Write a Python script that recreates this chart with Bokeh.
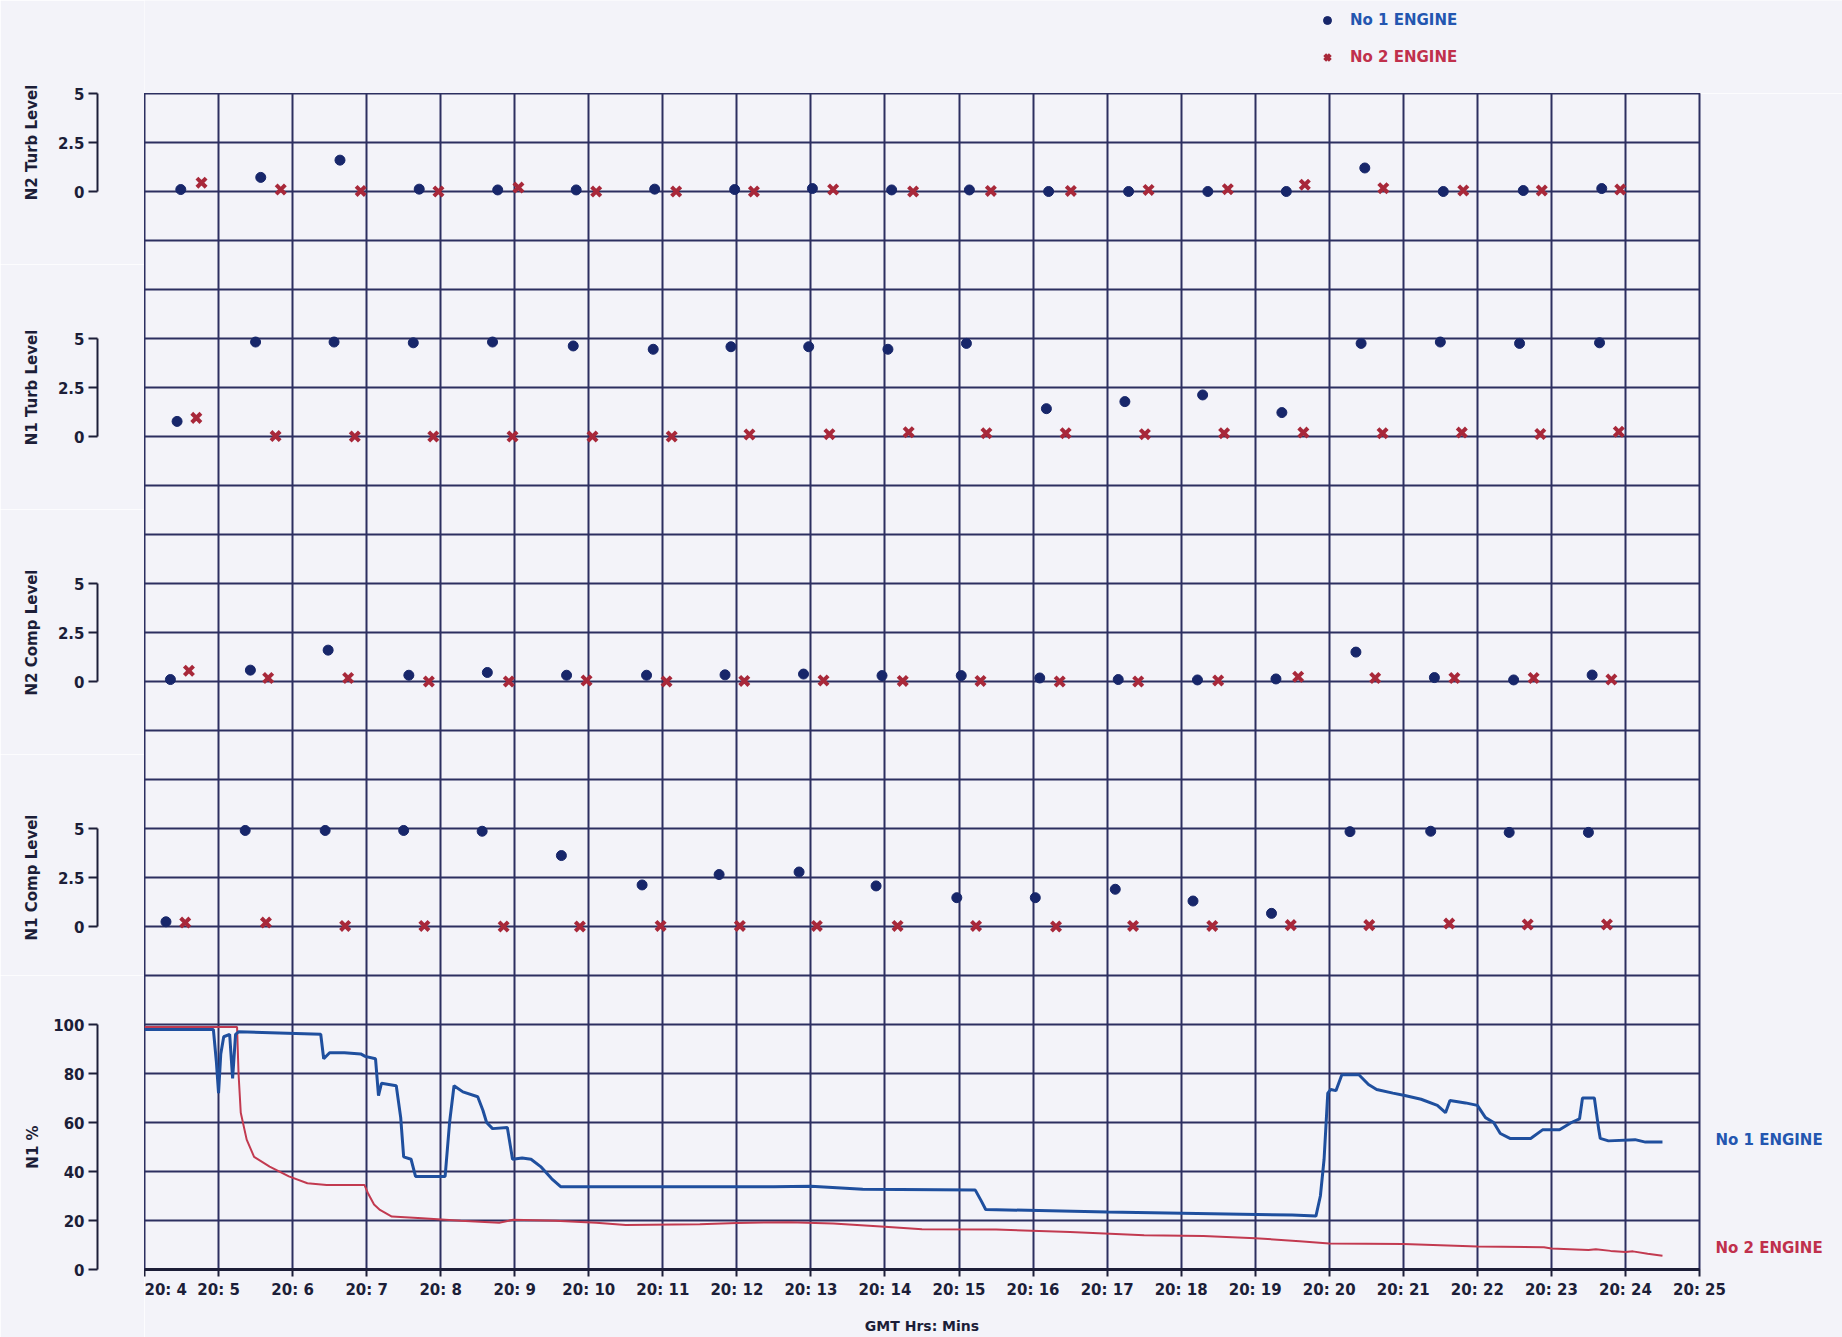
from bokeh.plotting import figure
from bokeh.layouts import row, column
from bokeh.models import (Range1d, FixedTicker, Grid, Legend, LegendItem, Label,
                          PrintfTickFormatter)
from bokeh.embed import file_html
from bokeh.resources import INLINE

# ---- sampled vibration levels (time in minutes past 20:00) ----
n2_turb_t1 = [4.49, 5.57, 6.64, 7.71, 8.77, 9.83, 10.89, 11.97, 13.02, 14.09, 15.14, 16.21, 17.29, 18.36, 19.42, 20.48, 21.54, 22.62, 23.68]
n2_turb_v1 = [0.1, 0.72, 1.6, 0.12, 0.08, 0.08, 0.12, 0.1, 0.15, 0.08, 0.08, 0.0, 0.0, 0.0, 0.0, 1.2, 0.0, 0.05, 0.15]
n2_turb_t2 = [4.77, 5.84, 6.92, 7.97, 9.05, 10.10, 11.18, 12.23, 13.30, 14.38, 15.43, 16.51, 17.56, 18.63, 19.67, 20.73, 21.81, 22.87, 23.93]
n2_turb_v2 = [0.45, 0.1, 0.03, 0.0, 0.2, 0.0, 0.0, 0.0, 0.1, 0.0, 0.03, 0.03, 0.08, 0.12, 0.35, 0.17, 0.05, 0.05, 0.1]

n1_turb_t1 = [4.44, 5.50, 6.56, 7.63, 8.70, 9.79, 10.87, 11.92, 12.97, 14.04, 15.10, 16.18, 17.24, 18.29, 19.36, 20.43, 21.50, 22.57, 23.65]
n1_turb_v1 = [0.77, 4.82, 4.82, 4.78, 4.82, 4.62, 4.45, 4.58, 4.58, 4.45, 4.75, 1.42, 1.78, 2.12, 1.22, 4.75, 4.82, 4.75, 4.78]
n1_turb_t2 = [4.70, 5.77, 6.84, 7.90, 8.97, 10.05, 11.12, 12.17, 13.25, 14.32, 15.37, 16.44, 17.51, 18.58, 19.65, 20.72, 21.79, 22.85, 23.91]
n1_turb_v2 = [0.95, 0.02, 0.0, 0.0, 0.0, 0.0, 0.0, 0.1, 0.12, 0.22, 0.17, 0.17, 0.12, 0.17, 0.2, 0.17, 0.2, 0.13, 0.24]

n2_comp_t1 = [4.35, 5.43, 6.48, 7.57, 8.63, 9.70, 10.78, 11.84, 12.90, 13.96, 15.03, 16.09, 17.15, 18.22, 19.28, 20.36, 21.42, 22.49, 23.55]
n2_comp_v1 = [0.1, 0.58, 1.6, 0.32, 0.46, 0.32, 0.32, 0.34, 0.38, 0.3, 0.3, 0.18, 0.1, 0.08, 0.13, 1.5, 0.2, 0.08, 0.33]
n2_comp_t2 = [4.60, 5.67, 6.75, 7.84, 8.92, 9.97, 11.05, 12.10, 13.17, 14.24, 15.29, 16.36, 17.42, 18.50, 19.58, 20.62, 21.69, 22.76, 23.81]
n2_comp_v2 = [0.55, 0.18, 0.18, 0.0, 0.0, 0.05, 0.0, 0.03, 0.05, 0.03, 0.03, 0.0, 0.0, 0.05, 0.24, 0.18, 0.18, 0.18, 0.1]

n1_comp_t1 = [4.29, 5.36, 6.44, 7.50, 8.56, 9.63, 10.72, 11.76, 12.84, 13.88, 14.97, 16.03, 17.11, 18.16, 19.22, 20.28, 21.37, 22.43, 23.50]
n1_comp_v1 = [0.24, 4.9, 4.9, 4.9, 4.86, 3.62, 2.12, 2.65, 2.78, 2.07, 1.47, 1.47, 1.9, 1.3, 0.67, 4.84, 4.86, 4.8, 4.8]
n1_comp_t2 = [4.55, 5.64, 6.71, 7.78, 8.85, 9.88, 10.97, 12.04, 13.08, 14.17, 15.23, 16.31, 17.35, 18.42, 19.48, 20.54, 21.62, 22.68, 23.75]
n1_comp_v2 = [0.2, 0.2, 0.03, 0.03, 0.0, 0.0, 0.03, 0.03, 0.03, 0.03, 0.03, 0.0, 0.03, 0.03, 0.07, 0.07, 0.15, 0.1, 0.1]

# ---- N1 fan speed traces ----
n1_t1 = [4.00, 4.93, 4.97, 5.00, 5.03, 5.07, 5.15, 5.19, 5.23, 5.27, 6.38, 6.42, 6.50, 6.70, 6.92,
         6.98, 7.12, 7.16, 7.20, 7.40, 7.46, 7.50, 7.60, 7.66, 8.06, 8.12, 8.18, 8.30, 8.50, 8.57,
         8.62, 8.70, 8.90, 8.97, 9.10, 9.22, 9.35, 9.50, 9.62, 12.5, 13.0, 13.7, 15.22, 15.30, 15.36,
         17.0, 19.5, 19.82, 19.88, 19.93, 19.98, 20.02, 20.09, 20.17, 20.40, 20.53, 20.64, 20.86, 21.02,
         21.24, 21.46, 21.57, 21.63, 21.84, 22.00, 22.11, 22.22, 22.31, 22.44, 22.72, 22.88, 23.11, 23.27,
         23.38, 23.42, 23.58, 23.64, 23.66, 23.77, 24.13, 24.27, 24.50]
n1_pct1 = [98, 98, 85, 72, 88, 95, 96, 78, 96, 97, 96, 86, 88.5, 88.5, 88,
           87, 86, 71, 76, 75, 62, 46, 45, 38, 38, 60, 75, 72.5, 70.5, 65,
           60, 57.5, 58, 45, 45.5, 45, 42, 37, 33.8, 33.8, 34, 32.8, 32.4, 28, 24.5,
           23.5, 22.2, 21.8, 30, 45, 72, 73.5, 73, 79.5, 79.5, 75.5, 73.5, 72, 71,
           69.5, 67, 64, 69, 68, 67, 62, 60, 55.5, 53.5, 53.5, 57, 57, 60,
           61.5, 70, 70, 57, 53.5, 52.5, 53, 52, 52]
n1_t2 = [4.00, 5.25, 5.27, 5.30, 5.38, 5.48, 5.69, 5.95, 6.20, 6.46, 6.97, 7.02, 7.10, 7.18, 7.34,
         7.75, 8.27, 8.79, 8.98, 9.55, 10.1, 10.5, 11.5, 12.0, 12.7, 13.3, 14.0, 14.5, 15.5, 16.5,
         17.5, 18.3, 19.0, 19.6, 20.0, 21.0, 22.0, 22.9, 23.0, 23.5, 23.6, 23.8, 24.0, 24.1, 24.3, 24.5]
n1_pct2 = [99, 99, 80, 64, 53, 46, 42, 38, 35.2, 34.5, 34.5, 31, 26.5, 24.3, 21.6,
           20.9, 19.9, 19.1, 20.3, 19.9, 19.1, 18.2, 18.5, 19.0, 19.3, 18.8, 17.4, 16.4, 16.3, 15.3,
           14.0, 13.7, 12.8, 11.5, 10.6, 10.4, 9.4, 9.1, 8.6, 8.0, 8.3, 7.6, 7.1, 7.4, 6.4, 5.6]

minutes = list(range(4, 26))
level_ticks = [0, 2.5, 5]
n1_ticks = [0, 20, 40, 60, 80, 100]
engine_names = ["No 1 ENGINE", "No 2 ENGINE"]

BG = "#f3f3f9"
INK = "#1c1e38"
GRID = "#2c2f60"
DOT = "#17266a"
CROSS = "#a8283a"
LINE1 = "#1f4f9e"
LINE2 = "#c23a50"
TXT1 = "#2356b0"
TXT2 = "#c0304c"
FONT = "DejaVu Sans"

ROW = 49          # height of one grid row, px
TOP = 93          # space above the grid
FRAME_W = 1555
LEFT_W = 144
MAIN_W = 1842 - LEFT_W
BOTTOM = 1337 - TOP - 24 * ROW

DOT_STYLE = dict(marker="circle", size=10, fill_color=DOT, line_color=DOT)
CROSS_STYLE = dict(marker="x", size=13, line_width=4, line_color=CROSS)


# ---- narrow figures holding the stacked level axes ----
def level_axis(label, lo, hi, ticks, top, rows, bottom, standoff, fmt):
    f = figure(frame_width=1, frame_height=rows * ROW,
               x_range=Range1d(0, 1), y_range=Range1d(lo, hi),
               x_axis_type=None, toolbar_location=None, output_backend="svg",
               min_border_left=97, min_border_right=LEFT_W - 98,
               min_border_top=top, min_border_bottom=bottom)
    f.outline_line_color = None
    f.background_fill_color = BG
    f.border_fill_color = BG
    f.ygrid.visible = False
    ax = f.yaxis[0]
    ax.ticker = FixedTicker(ticks=ticks)
    ax.formatter = PrintfTickFormatter(format=fmt)
    ax.minor_tick_line_color = None
    ax.major_tick_in = 0
    ax.major_tick_out = 9
    ax.major_tick_line_width = 2
    ax.major_tick_line_color = INK
    ax.axis_line_width = 2
    ax.axis_line_color = INK
    ax.major_label_standoff = 4
    ax.major_label_text_font = FONT
    ax.major_label_text_font_style = "bold"
    ax.major_label_text_font_size = "15px"
    ax.major_label_text_color = INK
    ax.axis_label = label
    ax.axis_label_standoff = standoff
    ax.axis_label_text_font = FONT
    ax.axis_label_text_font_style = "bold"
    ax.axis_label_text_font_size = "15px"
    ax.axis_label_text_color = INK
    return f


ax_n2t = level_axis("N2 Turb Level", 0, 5, level_ticks, TOP, 2, 73, 14, "%g")
ax_n1t = level_axis("N1 Turb Level", 0, 5, level_ticks, 74, 2, 73, 14, "%g")
ax_n2c = level_axis("N2 Comp Level", 0, 5, level_ticks, 74, 2, 73, 14, "%g")
ax_n1c = level_axis("N1 Comp Level", 0, 5, level_ticks, 74, 2, 49, 14, "%g")
ax_n1 = level_axis("N1 %", 0, 100, n1_ticks, 49, 5, BOTTOM, 8, "%d")

# ---- engine key strip above the grid ----
# the key's own sample renderers carry the first panel's readings; the strip's
# x range (0..1) lies before 20:04, so only their legend swatches show
key = figure(frame_width=MAIN_W, frame_height=TOP, x_range=Range1d(0, 1), y_range=Range1d(0, 1),
             x_axis_type=None, y_axis_type=None, toolbar_location=None, output_backend="svg",
             min_border_left=0, min_border_right=0, min_border_top=0, min_border_bottom=0)
key.outline_line_color = None
key.background_fill_color = BG
key.border_fill_color = BG
key.grid.visible = False
key_dot = key.scatter(n2_turb_t1, n2_turb_v1, **DOT_STYLE)
key_cross = key.scatter(n2_turb_t2, n2_turb_v2, **CROSS_STYLE)


def engine_key(text, rend, color, top_px):
    leg = Legend(items=[LegendItem(label=text, renderers=[rend])],
                 location=(1168, TOP - top_px - 20), padding=0, margin=0, spacing=0,
                 glyph_width=30, glyph_height=20, label_height=20, label_standoff=8,
                 border_line_color=None, background_fill_alpha=0,
                 label_text_font=FONT, label_text_font_style="bold",
                 label_text_font_size="15px", label_text_color=color)
    key.add_layout(leg, "center")


engine_key(engine_names[0], key_dot, TXT1, 10)
engine_key(engine_names[1], key_cross, TXT2, 47)

# ---- main chart: one grid, each panel mapped through its own range ----
p = figure(frame_width=FRAME_W, frame_height=24 * ROW,
           x_range=Range1d(4, 25), y_range=Range1d(0, 480),
           y_axis_type=None, toolbar_location=None, output_backend="svg",
           min_border_left=0, min_border_right=MAIN_W - FRAME_W,
           min_border_top=0, min_border_bottom=BOTTOM)
p.background_fill_color = BG
p.border_fill_color = BG
p.outline_line_color = GRID
p.outline_line_width = 2

p.extra_y_ranges = {
    "n2t": Range1d(-55, 5),
    "n1t": Range1d(-42.5, 17.5),
    "n2c": Range1d(-30, 30),
    "n1c": Range1d(-17.5, 42.5),
}

p.xgrid.ticker = FixedTicker(ticks=minutes)
p.xgrid.grid_line_color = GRID
p.xgrid.grid_line_width = 2
p.add_layout(Grid(dimension=1, ticker=FixedTicker(ticks=list(range(0, 481, 20))),
                  grid_line_color=GRID, grid_line_width=2))

xa = p.xaxis[0]
xa.ticker = FixedTicker(ticks=minutes)
xa.formatter = PrintfTickFormatter(format="20: %d")
xa.minor_tick_line_color = None
xa.major_tick_in = 0
xa.major_tick_out = 7
xa.major_tick_line_width = 2
xa.major_tick_line_color = INK
xa.axis_line_width = 3
xa.axis_line_color = INK
xa.major_label_standoff = 4
xa.major_label_text_font = FONT
xa.major_label_text_font_style = "bold"
xa.major_label_text_font_size = "15px"
xa.major_label_text_color = INK
xa.axis_label = "GMT Hrs: Mins"
xa.axis_label_standoff = 16
xa.axis_label_text_font = FONT
xa.axis_label_text_font_style = "bold"
xa.axis_label_text_font_size = "14px"
xa.axis_label_text_color = INK

panels = [
    ("n2t", n2_turb_t1, n2_turb_v1, n2_turb_t2, n2_turb_v2),
    ("n1t", n1_turb_t1, n1_turb_v1, n1_turb_t2, n1_turb_v2),
    ("n2c", n2_comp_t1, n2_comp_v1, n2_comp_t2, n2_comp_v2),
    ("n1c", n1_comp_t1, n1_comp_v1, n1_comp_t2, n1_comp_v2),
]
for name, t1, v1, t2, v2 in panels:
    p.scatter(t1, v1, y_range_name=name, **DOT_STYLE)
    p.scatter(t2, v2, y_range_name=name, **CROSS_STYLE)

p.line(n1_t2, n1_pct2, line_color=LINE2, line_width=2)
p.line(n1_t1, n1_pct1, line_color=LINE1, line_width=3)

# trace names beside the right-hand ends of the N1 lines
for text, yv, color in [(engine_names[0], 52.9, TXT1), (engine_names[1], 8.8, TXT2)]:
    p.add_layout(Label(x=25.215, y=yv, text=text, text_align="left", text_baseline="middle",
                       text_font=FONT, text_font_style="bold", text_font_size="15px",
                       text_color=color), "right")

left = column(ax_n2t, ax_n1t, ax_n2c, ax_n1c, ax_n1, spacing=0)
layout = row(left, column(key, p, spacing=0), spacing=0)

open("out.html", "w").write(file_html(layout, INLINE))
